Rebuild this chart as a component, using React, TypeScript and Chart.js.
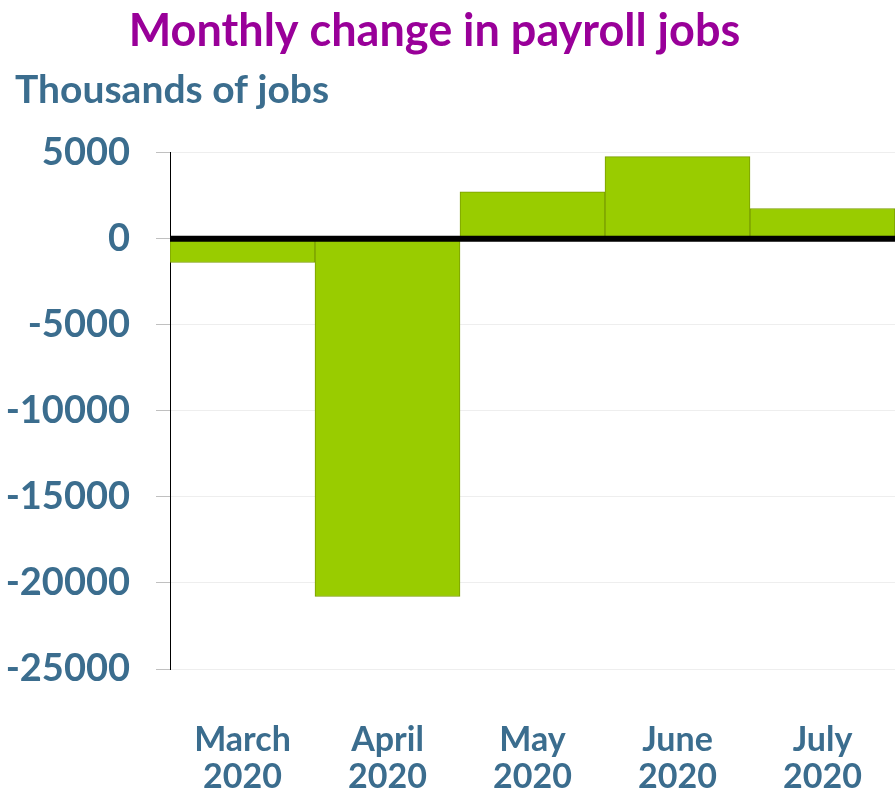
import React, { useEffect, useRef } from "react";
import { Chart, registerables } from "chart.js";

Chart.register(...registerables);

const categories: string[][] = [
  ["March", "2020"],
  ["April", "2020"],
  ["May", "2020"],
  ["June", "2020"],
  ["July", "2020"],
];
const jobChanges: number[] = [-1373, -20787, 2725, 4781, 1763];
const yTicks: number[] = [5000, 0, -5000, -10000, -15000, -20000, -25000];

const titleText = "Monthly change in payroll jobs";
const yTitleText = "Thousands of jobs";

const FONT = "Lato, 'Open Sans', sans-serif";
const BLUE = "#3b6d8e";

const zeroLine = {
  id: "zeroLine",
  afterLayout(chart: any) {
    for (const box of chart.boxes) {
      if (box.options && box.options.text === yTitleText) {
        box.left = 15;
      } else if (box.options && box.options.text === titleText) {
        box.left = box.left - 13;
        box.right = box.right - 13;
      }
    }
  },
  afterDatasetsDraw(chart: any) {
    const y = chart.scales.y.getPixelForValue(0);
    const { left, right } = chart.chartArea;
    const ctx = chart.ctx;
    ctx.save();
    ctx.strokeStyle = "#000000";
    ctx.lineWidth = 6;
    ctx.beginPath();
    ctx.moveTo(left, y);
    ctx.lineTo(right, y);
    ctx.stroke();
    ctx.restore();
  },
};

export default function App() {
  const ref = useRef<HTMLCanvasElement | null>(null);

  useEffect(() => {
    if (!ref.current) return;
    const chart = new Chart(ref.current, {
      type: "bar",
      data: {
        labels: categories,
        datasets: [
          {
            data: jobChanges,
            backgroundColor: "#99cc00",
            borderColor: "#7a9c00",
            borderWidth: 1,
            barPercentage: 1,
            categoryPercentage: 1,
          },
        ],
      },
      plugins: [zeroLine],
      options: {
        animation: false,
        responsive: false,
        maintainAspectRatio: false,
        layout: { padding: { left: 0, right: 0, top: 0, bottom: 0 } },
        plugins: {
          legend: { display: false },
          tooltip: { enabled: false },
          title: {
            display: true,
            text: titleText,
            color: "#990099",
            font: { family: FONT, size: 45, weight: "bold", lineHeight: 1.2 },
            padding: { top: 4, bottom: 9 },
          },
          subtitle: {
            display: true,
            text: yTitleText,
            align: "start",
            color: BLUE,
            font: { family: FONT, size: 39, weight: "bold", lineHeight: 1.2 },
            padding: { top: 0, bottom: 39 },
          },
        },
        scales: {
          x: {
            afterFit(scale: any) {
              scale.height = 121;
              scale.paddingLeft = 0;
              scale.paddingRight = 0;
            },
            grid: { display: false },
            border: { display: false },
            ticks: {
              color: BLUE,
              font: { family: FONT, size: 34, weight: "bold", lineHeight: 1.08 },
              padding: 45,
              maxRotation: 0,
              autoSkip: false,
            },
          },
          y: {
            min: -25000,
            max: 5000,
            afterBuildTicks(scale: any) {
              scale.ticks = yTicks.map((v) => ({ value: v }));
            },
            afterFit(scale: any) {
              scale.width = 170;
            },
            grid: {
              color: "#eeeeee",
              tickColor: "#c0c0c0",
              tickLength: 14,
              lineWidth: 1,
            },
            border: { display: true, color: "#000000", width: 1 },
            ticks: {
              color: BLUE,
              font: { family: FONT, size: 38, weight: "bold" },
              padding: 26,
              callback: (v: any) => String(v),
            },
          },
        },
      },
    });
    return () => chart.destroy();
  }, []);

  return (
    <div style={{ position: "absolute", left: 0, top: 0, width: 895, height: 790, background: "#ffffff" }}>
      <canvas ref={ref} width={895} height={790} />
    </div>
  );
}
